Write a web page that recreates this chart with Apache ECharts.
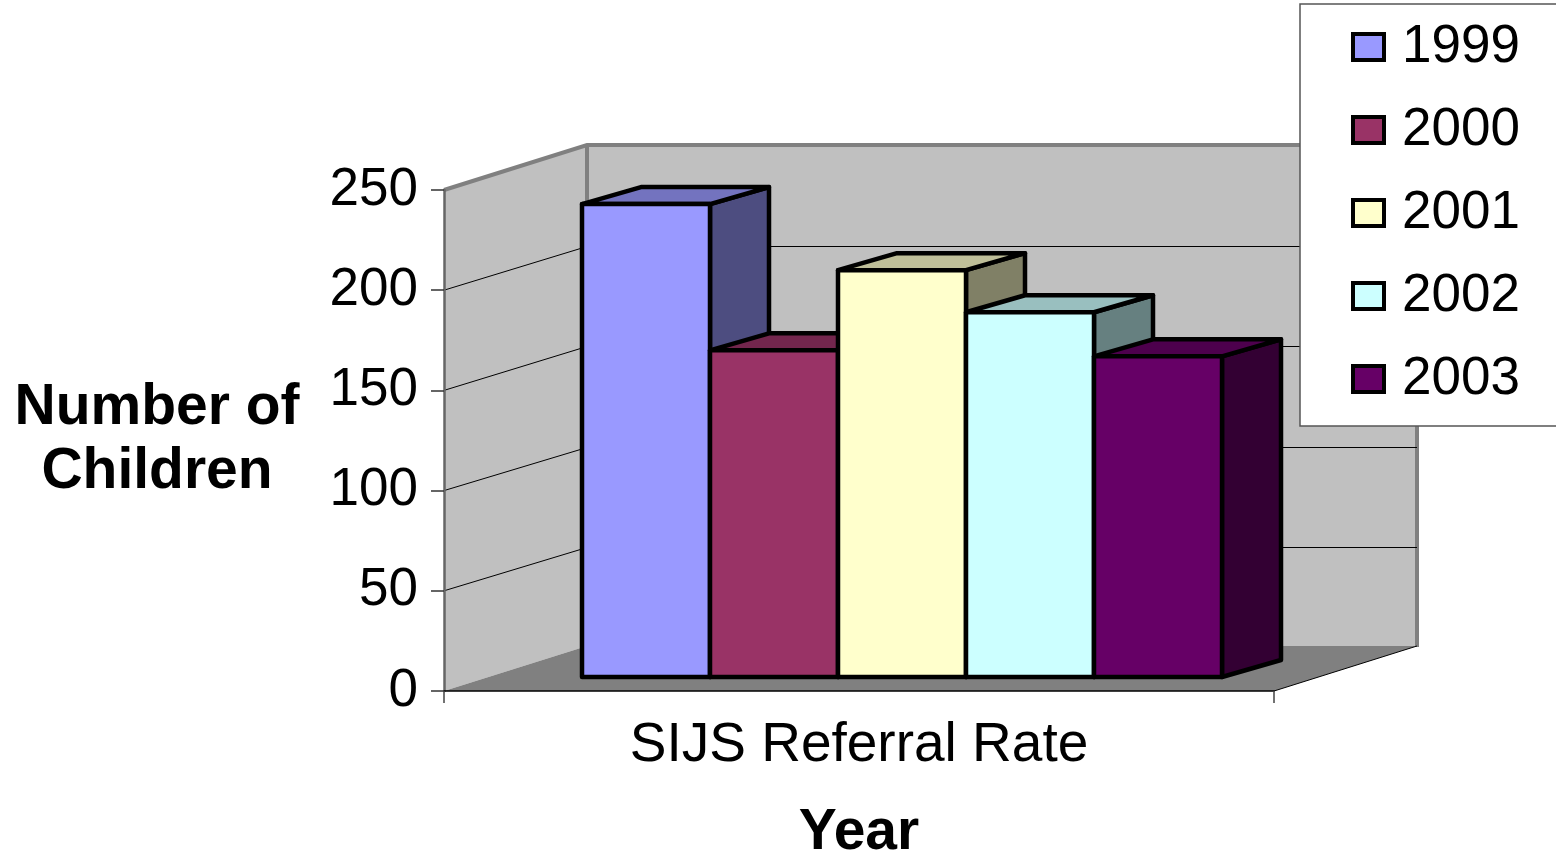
<!DOCTYPE html>
<html>
<head>
<meta charset="utf-8">
<style>html,body{margin:0;padding:0;background:#fff;overflow:hidden}#c{width:1556px;height:850px}</style>
<script src="https://cdn.jsdelivr.net/npm/echarts@6/dist/echarts.min.js"></script>
</head>
<body>
<div id="c"></div>
<script>
const categories = ['SIJS Referral Rate'];
const years = ['1999', '2000', '2001', '2002', '2003'];
const values = [236, 163, 203, 182, 160];
const colors = ['#9999FF', '#993366', '#FFFFCC', '#CCFFFF', '#660066'];
const yTicks = [0, 50, 100, 150, 200, 250];

const FONT = '"Liberation Sans", Arial, sans-serif';
const WALL_DX = 143, WALL_DY = -45;   // oblique projection of the floor's depth
const GRID_DY = -44;                  // gridlines on the back wall
const BAR_DX = 43, BAR_DY = -14;      // where the bars' front faces sit in that depth
const DEPTH_DX = 59, DEPTH_DY = -17;  // the bars' own depth
const BAR_SHARE = 128 / 830;

function shade(hex, f) {
  const n = parseInt(hex.slice(1), 16);
  const c = [(n >> 16) & 255, (n >> 8) & 255, n & 255].map(v => Math.round(v * f));
  return 'rgb(' + c.join(',') + ')';
}

function bounds(api) {
  const band = api.size([1, 0])[0];
  const mid = api.coord([0, 0])[0];
  return { band, left: mid - band / 2, right: mid + band / 2 };
}

function renderWalls(params, api) {
  const b = bounds(api);
  const y0 = api.coord([0, 0])[1];
  const yT = api.coord([0, api.value(1)])[1];
  const bx = b.left + WALL_DX, brx = b.right + WALL_DX;
  const by0 = y0 + WALL_DY, byT = yT + WALL_DY;
  const wall = '#C0C0C0';
  const edge = '#808080';
  return { type: 'group', children: [
    { type: 'polygon', shape: { points: [[bx, byT], [brx, byT], [brx, by0], [bx, by0]] }, style: { fill: wall } },
    { type: 'polygon', shape: { points: [[b.left, yT], [bx, byT], [bx, by0], [b.left, y0]] }, style: { fill: wall } },
    { type: 'polygon', shape: { points: [[b.left, y0], [b.right, y0], [brx, by0], [bx, by0]] }, style: { fill: edge } },
    { type: 'polyline', shape: { points: [[b.left, yT], [bx, byT], [brx, byT], [brx, by0 + 1]] }, style: { fill: 'none', stroke: edge, lineWidth: 4 } },
    { type: 'line', shape: { x1: bx, y1: byT, x2: bx, y2: by0 }, style: { stroke: edge, lineWidth: 4 } },
    { type: 'line', shape: { x1: b.right, y1: y0, x2: brx, y2: by0 }, style: { stroke: '#000', lineWidth: 1 } }
  ] };
}

function renderGrid(params, api) {
  const b = bounds(api);
  const y = api.coord([0, api.value(1)])[1];
  const backY = Math.round(y + GRID_DY) + 0.5;
  return { type: 'polyline',
    shape: { points: [[b.left, y], [b.left + WALL_DX, backY], [b.right + WALL_DX, backY]] },
    style: { fill: 'none', stroke: '#000', lineWidth: 1 } };
}

function renderBar(index) {
  return function (params, api) {
    const b = bounds(api);
    const w = b.band * BAR_SHARE;
    const x1 = b.left + (b.band - w * years.length) / 2 + index * w + BAR_DX;
    const x2 = x1 + w;
    const yB = api.coord([0, 0])[1] + BAR_DY;
    const yT = api.coord([0, api.value(1)])[1] + BAR_DY;
    const c = colors[index];
    const line = { stroke: '#000', lineWidth: 4.5, lineJoin: 'round' };
    return { type: 'group', children: [
      { type: 'polygon', shape: { points: [[x2, yT], [x2 + DEPTH_DX, yT + DEPTH_DY], [x2 + DEPTH_DX, yB + DEPTH_DY], [x2, yB]] }, style: Object.assign({ fill: shade(c, 0.5) }, line) },
      { type: 'polygon', shape: { points: [[x1, yT], [x1 + DEPTH_DX, yT + DEPTH_DY], [x2 + DEPTH_DX, yT + DEPTH_DY], [x2, yT]] }, style: Object.assign({ fill: shade(c, 0.75) }, line) },
      { type: 'polygon', shape: { points: [[x1, yT], [x2, yT], [x2, yB], [x1, yB]] }, style: Object.assign({ fill: c }, line) }
    ] };
  };
}

const series = [
  { type: 'custom', name: 'walls', z: 1, silent: true, renderItem: renderWalls, data: [[0, yTicks[yTicks.length - 1]]], clip: false },
  { type: 'custom', name: 'grid', z: 1, silent: true, renderItem: renderGrid, data: yTicks.slice(1, -1).map(v => [0, v]), clip: false }
];
years.forEach((y, i) => series.push({
  type: 'custom', name: y, z: 2, silent: true, clip: false,
  itemStyle: { color: colors[i] },
  renderItem: renderBar(i), data: [[0, values[i]]]
}));

const chart = echarts.init(document.getElementById('c'), null, { renderer: 'canvas' });
chart.setOption({
  animation: false,
  backgroundColor: '#fff',
  textStyle: { fontFamily: FONT },
  grid: { left: 444, top: 190, width: 830, height: 501, outerBoundsMode: 'none', containLabel: false },
  legend: {
    left: 1300, top: 4, orient: 'vertical', align: 'left',
    padding: [13, 80, 17, 51],
    backgroundColor: '#fff', borderColor: '#555', borderWidth: 1.5,
    itemWidth: 31, itemHeight: 26, itemGap: 23, z: 20, selectedMode: false,
    textStyle: { fontSize: 53, lineHeight: 60, color: '#000', fontFamily: FONT, padding: [0, 0, 0, 13] },
    data: years.map((y, i) => ({ name: y, icon: 'rect',
      itemStyle: { color: colors[i], borderColor: '#000', borderWidth: 4 } }))
  },
  xAxis: {
    type: 'category', data: categories, z: 5,
    name: 'Year', nameLocation: 'middle', nameGap: 114,
    nameTextStyle: { fontSize: 57, fontWeight: 'bold', color: '#000', fontFamily: FONT },
    axisLine: { show: true, lineStyle: { color: '#000', width: 1.5 } },
    axisTick: { show: true, length: 12, alignWithLabel: false, lineStyle: { color: '#444', width: 1.5 } },
    axisLabel: { fontSize: 55, color: '#000', margin: 27, fontFamily: FONT }
  },
  yAxis: {
    type: 'value', min: 0, max: 250, interval: 50, z: 5,
    name: 'Number of\nChildren', nameLocation: 'middle', nameGap: 287, nameRotate: 0,
    nameTextStyle: { fontSize: 57, fontWeight: 'bold', color: '#000', lineHeight: 64, align: 'center', verticalAlign: 'middle', padding: [0, 0, 8, 0], fontFamily: FONT },
    splitLine: { show: false },
    axisLine: { show: true, lineStyle: { color: '#666', width: 2.5 } },
    axisTick: { show: true, length: 13, lineStyle: { color: '#333', width: 1.5 } },
    axisLabel: { fontSize: 53, color: '#000', margin: 26, padding: [3, 0, 0, 0], fontFamily: FONT, formatter: v => String(v) }
  },
  series
});
</script>
</body>
</html>
